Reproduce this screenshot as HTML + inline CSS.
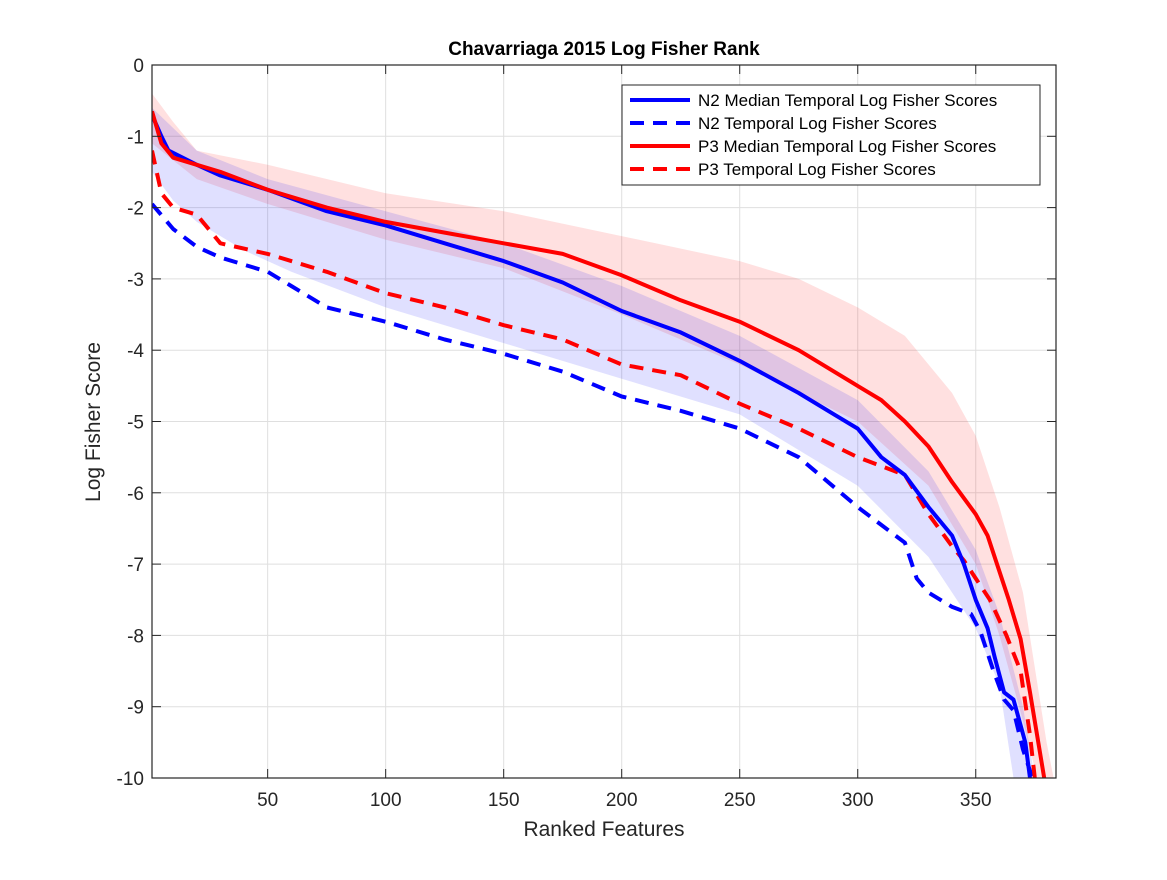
<!DOCTYPE html>
<html><head><meta charset="utf-8"><style>
body{margin:0;background:#fff;}
svg text{font-family:"Liberation Sans",Arial,sans-serif;}
</style></head><body>
<svg id="chart" width="1167" height="875" xmlns="http://www.w3.org/2000/svg">
<rect width="1167" height="875" fill="#fff"/>
<g id="grid"></g>
<g id="bands"></g>
<g id="lines"></g>
<g id="axes"></g>
</svg>
<script>
const xTicks=[50,100,150,200,250,300,350];
const yTicks=[0,-1,-2,-3,-4,-5,-6,-7,-8,-9,-10];
const n2MedX=[1,5,8,20,30,50,75,100,125,150,175,200,225,250,275,290,300,310,320,330,340,345,350,355,358,362,366,371,373];
const n2MedY=[-0.7,-1.0,-1.2,-1.4,-1.55,-1.75,-2.05,-2.25,-2.5,-2.75,-3.05,-3.45,-3.75,-4.15,-4.6,-4.9,-5.1,-5.5,-5.75,-6.2,-6.6,-7.0,-7.5,-7.9,-8.3,-8.8,-8.9,-9.5,-10];
const p3MedX=[1,5,10,20,30,50,75,100,125,150,175,200,225,250,275,300,310,320,330,340,350,355,359,364,369,373,376,379];
const p3MedY=[-0.65,-1.1,-1.3,-1.4,-1.5,-1.75,-2.0,-2.2,-2.35,-2.5,-2.65,-2.95,-3.3,-3.6,-4.0,-4.5,-4.7,-5.0,-5.35,-5.85,-6.3,-6.6,-7.0,-7.5,-8.05,-8.8,-9.4,-10];
const n2X=[1,10,20,30,50,60,75,100,125,150,175,200,225,250,275,300,320,325,330,340,348,352,357,362,366,370,374];
const n2Y=[-1.95,-2.3,-2.55,-2.7,-2.9,-3.1,-3.4,-3.6,-3.85,-4.05,-4.3,-4.65,-4.85,-5.1,-5.5,-6.2,-6.7,-7.2,-7.4,-7.6,-7.7,-7.95,-8.45,-8.9,-9.05,-9.6,-10];
const p3X=[1,5,10,20,30,50,75,100,125,150,175,200,225,250,275,300,320,330,340,345,350,356,363,369,373,375];
const p3Y=[-1.2,-1.8,-2.0,-2.1,-2.5,-2.65,-2.9,-3.2,-3.4,-3.65,-3.85,-4.2,-4.35,-4.75,-5.1,-5.5,-5.75,-6.3,-6.75,-6.95,-7.2,-7.5,-8.0,-8.5,-9.4,-10];
const p3BandUpX=[1,10,20,50,100,150,200,250,275,300,320,340,350,360,370,380,383];
const p3BandUpY=[-0.4,-0.8,-1.2,-1.4,-1.8,-2.05,-2.4,-2.75,-3.0,-3.4,-3.8,-4.6,-5.2,-6.2,-7.4,-9.5,-10];
const p3BandLoX=[1,20,50,100,150,200,250,300,330,350,360,370,376];
const p3BandLoY=[-1.1,-1.6,-1.95,-2.45,-2.85,-3.5,-4.2,-5.0,-5.9,-7.0,-8.0,-9.2,-10];
const n2BandUpX=[1,20,50,100,150,200,250,300,330,350,360,370,375];
const n2BandUpY=[-0.6,-1.2,-1.6,-2.05,-2.5,-3.1,-3.8,-4.7,-5.7,-6.8,-7.7,-9.0,-10];
const n2BandLoX=[1,10,20,40,60,100,150,200,250,300,330,350,360,366];
const n2BandLoY=[-1.5,-1.9,-2.2,-2.6,-2.9,-3.4,-3.9,-4.4,-4.9,-5.9,-6.9,-7.9,-8.7,-10];

const L=152,R=1056,T=65,B=778,XMIN=1,XMAX=384,YMIN=-10,YMAX=0;
const sx=v=>L+(v-XMIN)/(XMAX-XMIN)*(R-L);
const sy=v=>T+(YMAX-v)/(YMAX-YMIN)*(B-T);
const NS='http://www.w3.org/2000/svg';
function mk(tag,attrs,parent){const e=document.createElementNS(NS,tag);for(const k in attrs)e.setAttribute(k,attrs[k]);document.getElementById(parent).appendChild(e);return e;}
const pts=(xs,ys)=>xs.map((x,i)=>sx(x).toFixed(1)+','+sy(ys[i]).toFixed(1));

xTicks.forEach(t=>{const g=mk('line',{x1:sx(t),x2:sx(t),y1:T,y2:B,stroke:'#dfdfdf','stroke-width':1},'grid');

});
yTicks.forEach(t=>{const g=mk('line',{x1:L,x2:R,y1:sy(t),y2:sy(t),stroke:'#dfdfdf','stroke-width':1},'grid');

});

function band(ux,uy,lx,ly,fill,name){
  const p=pts(ux,uy).concat(pts(lx,ly).reverse());
  const e=mk('polygon',{points:p.join(' '),fill:fill,'fill-opacity':0.12,stroke:'none'},'bands');
  
  
}
band(p3BandUpX,p3BandUpY,p3BandLoX,p3BandLoY,'#ff0000','p3-band');
band(n2BandUpX,n2BandUpY,n2BandLoX,n2BandLoY,'#0000ff','n2-band');

const clip=mk('clipPath',{id:'pc'},'lines');mk('rect',{x:L,y:T,width:R-L,height:B-T},'lines');
const cr=document.getElementById('lines').lastChild;clip.appendChild(cr);
function line(xs,ys,color,dash,name){
  const e=mk('polyline',{points:pts(xs,ys).join(' '),fill:'none',stroke:color,'stroke-width':4,'stroke-dasharray':dash?'14,9':'none','stroke-linejoin':'round','clip-path':'url(#pc)'},'lines');
  
  
}
line(n2X,n2Y,'#0000ff',true,'n2-temporal-line');
line(p3X,p3Y,'#ff0000',true,'p3-temporal-line');
line(n2MedX,n2MedY,'#0000ff',false,'n2-median-line');
line(p3MedX,p3MedY,'#ff0000',false,'p3-median-line');

const box=mk('rect',{x:L,y:T,width:R-L,height:B-T,fill:'none',stroke:'#262626','stroke-width':1.2},'axes');


xTicks.forEach(t=>{
  mk('line',{x1:sx(t),x2:sx(t),y1:B,y2:B-9,stroke:'#262626'},'axes');
  mk('line',{x1:sx(t),x2:sx(t),y1:T,y2:T+9,stroke:'#262626'},'axes');
  const tx=mk('text',{x:sx(t),y:B+28,'text-anchor':'middle','font-size':19,fill:'#262626'},'axes');tx.textContent=t;
  
  
});
yTicks.forEach(t=>{
  mk('line',{x1:L,x2:L+9,y1:sy(t),y2:sy(t),stroke:'#262626'},'axes');
  mk('line',{x1:R,x2:R-9,y1:sy(t),y2:sy(t),stroke:'#262626'},'axes');
  const tx=mk('text',{x:L-8,y:sy(t)+7,'text-anchor':'end','font-size':19,fill:'#262626'},'axes');tx.textContent=t;
  
  
});
let e=mk('text',{x:604,y:55,'text-anchor':'middle','font-size':19,'font-weight':'bold',fill:'#000'},'axes');e.textContent='Chavarriaga 2015 Log Fisher Rank';


e=mk('text',{x:604,y:836,'text-anchor':'middle','font-size':21,fill:'#262626'},'axes');e.textContent='Ranked Features';


e=mk('text',{x:0,y:0,'text-anchor':'middle','font-size':21,fill:'#262626',transform:'translate(100,422) rotate(-90)'},'axes');e.textContent='Log Fisher Score';



e=mk('rect',{x:622,y:85,width:418,height:100,fill:'#fff',stroke:'#262626','stroke-width':1},'axes');


const legNames=['N2 Median Temporal Log Fisher Scores','N2 Temporal Log Fisher Scores','P3 Median Temporal Log Fisher Scores','P3 Temporal Log Fisher Scores'];
const legColors=['#0000ff','#0000ff','#ff0000','#ff0000'];
const legDash=[false,true,false,true];
legNames.forEach((nm,i)=>{
  const y=100+i*23;
  const l=mk('line',{x1:630,x2:690,y1:y,y2:y,stroke:legColors[i],'stroke-width':4,'stroke-dasharray':legDash[i]?'14,9':'none'},'axes');
  
  
  const t=mk('text',{x:698,y:y+6,'font-size':17,fill:'#000'},'axes');t.textContent=nm;
  
  
});
</script>
</body></html>
